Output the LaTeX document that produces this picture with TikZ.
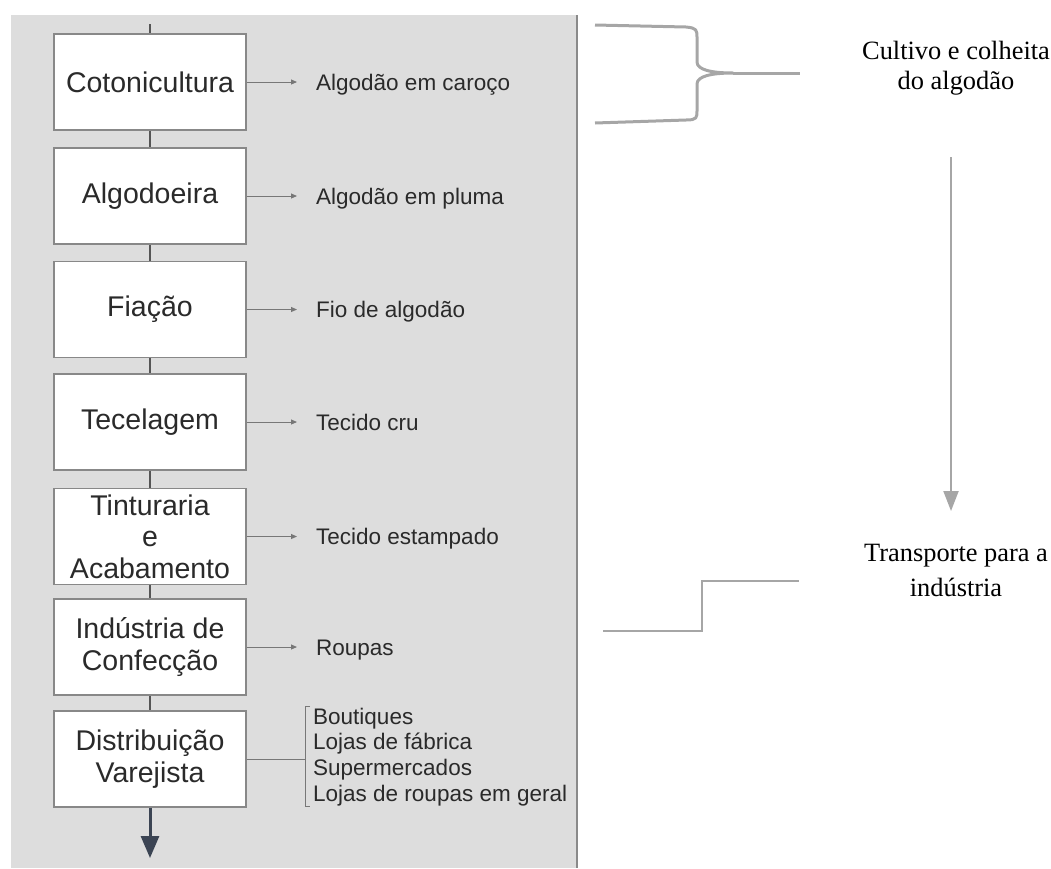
\documentclass[tikz,border=0pt]{standalone}
\usepackage{fontspec}
\setmainfont{Liberation Sans}
\newfontfamily\serifrm{Liberation Serif}
\usetikzlibrary{arrows.meta}
\definecolor{panelgray}{HTML}{DDDDDD}
\definecolor{edgegray}{HTML}{8A8A8A}
\definecolor{boxedge}{HTML}{888888}
\definecolor{stubgray}{HTML}{555555}
\definecolor{txtgray}{HTML}{2A2A2A}
\definecolor{lightline}{HTML}{A6A6A6}
\definecolor{slate}{HTML}{3B4453}
\tikzset{
  stagebox/.style={draw=boxedge, line width=1.6pt, fill=white, minimum width=192pt, minimum height=96pt,
    align=center, text=txtgray, font=\fontsize{28.5}{31.5}\selectfont, inner sep=0pt},
  outlabel/.style={anchor=west, inner sep=0pt, text height=16pt, text depth=0pt, text=txtgray,
    font=\fontsize{22.5}{25.7}\selectfont},
  sidearrow/.style={draw=stubgray!80, line width=0.9pt, -{Triangle[length=6pt,width=5pt]}, shorten >=19pt},
  stub/.style={draw=stubgray, line width=2.5pt},
  greyline/.style={draw=lightline, line width=2.5pt},
  sidenote/.style={align=center, inner sep=0pt}
}
\begin{document}
\begin{tikzpicture}[x=1pt,y=-1pt]
\useasboundingbox (0,0) rectangle (1051,868);
% panel
\fill[panelgray] (11,15) rectangle (577,868);
\draw[edgegray, line width=2.5pt] (577,15) -- (577,868);
% boxes
\node[stagebox] (b1) at (150,82) {Cotonicultura};
\node[stagebox] (b2) at (150,196) {Algodoeira};
\node[stagebox] (b3) at (150,309.5) {Fiação};
\node[stagebox] (b4) at (150,422) {Tecelagem};
\node[stagebox] (b5) at (150,536.5) {Tinturaria\\e\\Acabamento};
\node[stagebox] (b6) at (150,647) {Indústria de\\Confecção};
\node[stagebox] (b7) at (150,759) {Distribuição\\Varejista};
% stubs
\coordinate (top) at (150,24);
\draw[stub] (top) -- (b1.north);
\draw[stub] (b1.south) -- (b2.north);
\draw[stub] (b2.south) -- (b3.north);
\draw[stub] (b3.south) -- (b4.north);
\draw[stub] (b4.south) -- (b5.north);
\draw[stub] (b5.south) -- (b6.north);
\draw[stub] (b6.south) -- (b7.north);
\coordinate (bend) at (150,858);
\draw[slate, line width=3pt, -{Triangle[length=22pt,width=18pt]}] (b7.south) -- (bend);
% labels
\node[outlabel] (l1) at (316,82) {Algodão em caroço};
\node[outlabel] (l2) at (316,196) {Algodão em pluma};
\node[outlabel] (l3) at (316,309.5) {Fio de algodão};
\node[outlabel] (l4) at (316,422) {Tecido cru};
\node[outlabel] (l5) at (316,536.5) {Tecido estampado};
\node[outlabel] (l6) at (316,647) {Roupas};
\draw[sidearrow] (b1.east) -- (l1.west);
\draw[sidearrow] (b2.east) -- (l2.west);
\draw[sidearrow] (b3.east) -- (l3.west);
\draw[sidearrow] (b4.east) -- (l4.west);
\draw[sidearrow] (b5.east) -- (l5.west);
\draw[sidearrow] (b6.east) -- (l6.west);
% retail list
\node[anchor=west, align=left, inner sep=0pt, text=txtgray, font=\fontsize{22.5}{25.7}\selectfont] (l7) at (313,757)
  {Boutiques\\Lojas de fábrica\\Supermercados\\Lojas de roupas em geral};
\coordinate (brk) at (305,759);
\coordinate (brt) at (305,706);
\coordinate (brb) at (305,806);
\draw[draw=stubgray!80, line width=0.9pt] (b7.east) -- (brk);
\draw[draw=stubgray!80, line width=0.9pt] ([xshift=5pt]brt) -- (brt) -- (brb) -- ([xshift=5pt]brb);
% right side notes
\node[sidenote, font=\serifrm\fontsize{26.4}{30.5}\selectfont] (t1) at (956,68) {Cultivo e colheita\\do algodão};
\node[sidenote, font=\serifrm\fontsize{26.4}{35}\selectfont] (t2) at (956,570) {Transporte para a\\indústria};
% brace
\coordinate (bt) at (800,73);
\draw[greyline, line width=3pt, line join=round]
  (595,25) -- (686,27) .. controls (697,28) and (697,30) .. (697,38) -- (697,62)
  .. controls (697,70) and (712,73) .. (733,73)
  .. controls (712,73) and (697,76) .. (697,84) -- (697,110)
  .. controls (697,118) and (697,120) .. (686,120) -- (595,123);
\draw[greyline, line width=3pt] (733,73) -- (bt);
% vertical arrow
\coordinate (va) at (951,157);
\coordinate (vb) at (951,511);
\draw[draw=lightline, line width=2pt, -{Triangle[length=20pt,width=15pt]}] (va) -- (vb);
% step line
\coordinate (s1) at (603,631);
\coordinate (s2) at (702,581);
\coordinate (s3) at (799,581);
\draw[greyline] (s1) -| (s2) -- (s3);
\end{tikzpicture}
\end{document}
